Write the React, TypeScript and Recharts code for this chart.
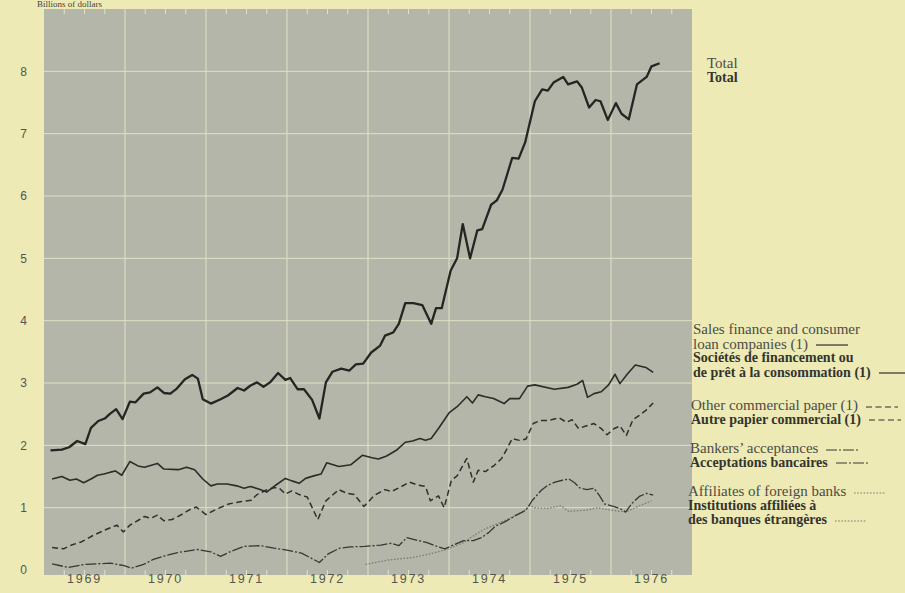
import React from 'react';
import { LineChart, Line, XAxis, YAxis, CartesianGrid, ReferenceLine } from 'recharts';

// values in billions of dollars, x = decimal year
const TOTAL = [
  [1969.08, 1.92], [1969.22, 1.93], [1969.31, 1.97], [1969.41, 2.07], [1969.51, 2.02], [1969.58, 2.28],
  [1969.67, 2.39], [1969.75, 2.43], [1969.81, 2.5], [1969.89, 2.58], [1969.97, 2.42], [1970.06, 2.7],
  [1970.13, 2.69], [1970.23, 2.83], [1970.31, 2.85], [1970.4, 2.93], [1970.48, 2.84], [1970.56, 2.83],
  [1970.64, 2.91], [1970.74, 3.06], [1970.83, 3.13], [1970.9, 3.07], [1970.96, 2.74], [1971.06, 2.67],
  [1971.18, 2.74], [1971.27, 2.8], [1971.39, 2.92], [1971.47, 2.88], [1971.55, 2.96], [1971.63, 3.01],
  [1971.71, 2.94], [1971.79, 3.01], [1971.89, 3.16], [1971.98, 3.05], [1972.04, 3.08], [1972.13, 2.9],
  [1972.21, 2.9], [1972.31, 2.73], [1972.4, 2.43], [1972.48, 3.01], [1972.56, 3.18], [1972.67, 3.23],
  [1972.77, 3.2], [1972.85, 3.3], [1972.94, 3.31], [1973.04, 3.49], [1973.15, 3.6], [1973.21, 3.76],
  [1973.31, 3.81], [1973.38, 3.95], [1973.46, 4.28], [1973.56, 4.28], [1973.67, 4.25], [1973.78, 3.95],
  [1973.84, 4.2], [1973.91, 4.2], [1974.02, 4.8], [1974.1, 5.0], [1974.17, 5.55], [1974.26, 5.0],
  [1974.35, 5.45], [1974.41, 5.47], [1974.52, 5.86], [1974.59, 5.93], [1974.66, 6.1], [1974.78, 6.61],
  [1974.86, 6.6], [1974.94, 6.86], [1975.06, 7.52], [1975.15, 7.71], [1975.22, 7.69], [1975.29, 7.82],
  [1975.41, 7.91], [1975.47, 7.79], [1975.58, 7.84], [1975.64, 7.74], [1975.73, 7.42], [1975.81, 7.54],
  [1975.87, 7.52], [1975.96, 7.22], [1976.06, 7.49], [1976.13, 7.32], [1976.22, 7.23], [1976.32, 7.79],
  [1976.44, 7.91], [1976.5, 8.08], [1976.6, 8.13],
];

const SALES_FINANCE = [
  [1969.1, 1.46], [1969.22, 1.5], [1969.32, 1.44], [1969.4, 1.46], [1969.49, 1.4], [1969.58, 1.46],
  [1969.66, 1.52], [1969.74, 1.54], [1969.82, 1.57], [1969.88, 1.59], [1969.96, 1.52], [1970.06, 1.74],
  [1970.16, 1.67], [1970.24, 1.65], [1970.4, 1.71], [1970.48, 1.62], [1970.66, 1.61], [1970.76, 1.65],
  [1970.86, 1.61], [1970.96, 1.46], [1971.06, 1.35], [1971.14, 1.38], [1971.26, 1.38], [1971.38, 1.35],
  [1971.47, 1.31], [1971.55, 1.34], [1971.65, 1.3], [1971.75, 1.25], [1971.86, 1.36], [1971.98, 1.47],
  [1972.06, 1.43], [1972.15, 1.39], [1972.23, 1.47], [1972.33, 1.51], [1972.42, 1.54], [1972.49, 1.72],
  [1972.64, 1.66], [1972.79, 1.69], [1972.93, 1.84], [1973.05, 1.8], [1973.13, 1.78], [1973.23, 1.83],
  [1973.36, 1.93], [1973.46, 2.05], [1973.55, 2.07], [1973.64, 2.11], [1973.71, 2.08], [1973.78, 2.11],
  [1973.87, 2.27], [1974.0, 2.52], [1974.1, 2.62], [1974.22, 2.78], [1974.29, 2.68], [1974.36, 2.81],
  [1974.45, 2.78], [1974.55, 2.75], [1974.68, 2.67], [1974.75, 2.75], [1974.87, 2.75], [1974.97, 2.95],
  [1975.06, 2.97], [1975.3, 2.9], [1975.47, 2.93], [1975.58, 2.98], [1975.65, 3.04], [1975.71, 2.77],
  [1975.79, 2.83], [1975.88, 2.86], [1975.97, 2.97], [1976.05, 3.14], [1976.11, 2.99], [1976.2, 3.14],
  [1976.3, 3.29], [1976.43, 3.25], [1976.52, 3.17],
];

const OTHER_PAPER = [
  [1969.1, 0.36], [1969.24, 0.34], [1969.34, 0.4], [1969.46, 0.45], [1969.6, 0.55], [1969.75, 0.64],
  [1969.9, 0.72], [1969.98, 0.61], [1970.06, 0.72], [1970.18, 0.81], [1970.24, 0.86], [1970.32, 0.83],
  [1970.4, 0.88], [1970.48, 0.79], [1970.58, 0.81], [1970.7, 0.89], [1970.8, 0.97], [1970.88, 1.01],
  [1971.0, 0.89], [1971.12, 0.97], [1971.28, 1.06], [1971.44, 1.1], [1971.56, 1.12], [1971.63, 1.21],
  [1971.74, 1.28], [1971.84, 1.32], [1971.9, 1.32], [1971.98, 1.22], [1972.06, 1.27], [1972.15, 1.21],
  [1972.25, 1.17], [1972.38, 0.81], [1972.48, 1.11], [1972.64, 1.29], [1972.74, 1.23], [1972.83, 1.21],
  [1972.95, 1.02], [1973.08, 1.2], [1973.21, 1.29], [1973.29, 1.26], [1973.4, 1.33], [1973.51, 1.41],
  [1973.62, 1.36], [1973.71, 1.34], [1973.77, 1.11], [1973.83, 1.16], [1973.87, 1.19], [1973.94, 1.0],
  [1974.03, 1.44], [1974.1, 1.51], [1974.22, 1.79], [1974.3, 1.41], [1974.36, 1.6], [1974.45, 1.58],
  [1974.56, 1.68], [1974.65, 1.79], [1974.71, 1.93], [1974.78, 2.11], [1974.87, 2.08], [1974.95, 2.1],
  [1975.04, 2.35], [1975.13, 2.4], [1975.23, 2.4], [1975.36, 2.44], [1975.45, 2.37], [1975.52, 2.41],
  [1975.6, 2.27], [1975.69, 2.31], [1975.79, 2.35], [1975.88, 2.27], [1975.95, 2.17], [1976.04, 2.27],
  [1976.11, 2.31], [1976.19, 2.16], [1976.27, 2.41], [1976.35, 2.48], [1976.43, 2.56], [1976.52, 2.68],
];

const BANKERS = [
  [1969.1, 0.1], [1969.3, 0.04], [1969.5, 0.09], [1969.66, 0.1], [1969.82, 0.11], [1969.99, 0.07],
  [1970.08, 0.03], [1970.23, 0.09], [1970.35, 0.17], [1970.5, 0.23], [1970.65, 0.28], [1970.89, 0.33],
  [1971.06, 0.29], [1971.18, 0.22], [1971.31, 0.3], [1971.47, 0.38], [1971.68, 0.39], [1971.84, 0.35],
  [1972.0, 0.32], [1972.18, 0.27], [1972.4, 0.12], [1972.51, 0.26], [1972.65, 0.35], [1972.78, 0.37],
  [1972.96, 0.38], [1973.16, 0.4], [1973.29, 0.43], [1973.38, 0.39], [1973.48, 0.52], [1973.63, 0.47],
  [1973.73, 0.44], [1973.85, 0.38], [1973.95, 0.34], [1974.05, 0.4], [1974.18, 0.47], [1974.3, 0.47],
  [1974.4, 0.52], [1974.49, 0.6], [1974.57, 0.7], [1974.7, 0.78], [1974.83, 0.88], [1974.95, 0.96],
  [1975.03, 1.12], [1975.14, 1.28], [1975.22, 1.36], [1975.31, 1.41], [1975.4, 1.44], [1975.48, 1.46],
  [1975.55, 1.4], [1975.61, 1.32], [1975.7, 1.29], [1975.79, 1.31], [1975.86, 1.19], [1975.92, 1.06],
  [1976.03, 1.02], [1976.12, 0.98], [1976.18, 0.93], [1976.26, 1.07], [1976.35, 1.18], [1976.44, 1.23],
  [1976.52, 1.2],
];

const AFFILIATES = [
  [1972.97, 0.09], [1973.25, 0.16], [1973.55, 0.2], [1973.77, 0.26], [1973.97, 0.33], [1974.18, 0.44],
  [1974.27, 0.52], [1974.43, 0.65], [1974.61, 0.75], [1974.78, 0.85], [1974.91, 0.93], [1975.0, 1.04],
  [1975.05, 1.0], [1975.22, 0.99], [1975.38, 1.03], [1975.48, 0.94], [1975.57, 0.95], [1975.7, 0.96],
  [1975.83, 1.0], [1976.0, 0.96], [1976.18, 0.93], [1976.35, 1.03], [1976.5, 1.11],
];

const YEARS = [1969, 1970, 1971, 1972, 1973, 1974, 1975, 1976];
const YEAR_LINES = [1970, 1971, 1972, 1973, 1974, 1975, 1976];
const VALUE_TICKS = [0, 1, 2, 3, 4, 5, 6, 7, 8];
const VALUE_LINES = [1, 2, 3, 4, 5, 6, 7, 8];

const W = 905;
const H = 593;
const Y_MIN = -0.08;
const Y_MAX = 9;

const PAGE = '#EDEAB5';
const PLOT = '#B3B6A9';
const GRID = '#E3E1C6';

type Key = 'total' | 'sales' | 'paper' | 'bankers' | 'affiliates';

const STYLE: Record<Key, { stroke: string; width: number; dash?: string }> = {
  total: { stroke: '#252523', width: 2.3 },
  sales: { stroke: '#2c2c29', width: 1.6 },
  paper: { stroke: '#30302c', width: 1.5, dash: '6 3.5' },
  bankers: { stroke: '#383834', width: 1.3, dash: '11 2 2 2' },
  affiliates: { stroke: '#7c7e72', width: 1.3, dash: '1.6 1.6' },
};

const SERIES: { key: Key; rows: number[][] }[] = [
  { key: 'affiliates', rows: AFFILIATES },
  { key: 'bankers', rows: BANKERS },
  { key: 'paper', rows: OTHER_PAPER },
  { key: 'sales', rows: SALES_FINANCE },
  { key: 'total', rows: TOTAL },
];

const LEGEND: { key: Key; left: number; top: number; lines: { text: string; bold: boolean; sample?: boolean }[] }[] = [
  { key: 'total', left: 707, top: 56, lines: [
    { text: 'Total', bold: false }, { text: 'Total', bold: true },
  ] },
  { key: 'sales', left: 693, top: 322, lines: [
    { text: 'Sales finance and consumer', bold: false },
    { text: 'loan companies (1)', bold: false, sample: true },
    { text: 'Sociétés de financement ou', bold: true },
    { text: 'de prêt à la consommation (1)', bold: true, sample: true },
  ] },
  { key: 'paper', left: 691, top: 398, lines: [
    { text: 'Other commercial paper (1)', bold: false, sample: true },
    { text: 'Autre papier commercial (1)', bold: true, sample: true },
  ] },
  { key: 'bankers', left: 690, top: 441, lines: [
    { text: 'Bankers\u2019 acceptances', bold: false, sample: true },
    { text: 'Acceptations bancaires', bold: true, sample: true },
  ] },
  { key: 'affiliates', left: 688, top: 484, lines: [
    { text: 'Affiliates of foreign banks', bold: false, sample: true },
    { text: 'Institutions affiliées à', bold: true },
    { text: 'des banques étrangères', bold: true, sample: true },
  ] },
];

const toPts = (rows: number[][]) => rows.map(([t, v]) => ({ t, v }));

const YearTick = (props: any) => {
  const { x, y, payload } = props;
  return (
    <text x={x} y={y} textAnchor="middle" fontSize={12.5} fill="#555550"
      letterSpacing={1.8} fontFamily="'Liberation Sans', sans-serif">
      {Math.floor(payload.value)}
    </text>
  );
};

const Sample = ({ k }: { k: Key }) => {
  const s = STYLE[k];
  return (
    <svg width={32} height={6} style={{ marginLeft: 8, verticalAlign: 'middle' }}>
      <line x1={0} x2={32} y1={3} y2={3} stroke={s.stroke} strokeWidth={1.2}
        strokeDasharray={s.dash} />
    </svg>
  );
};

export default function App() {
  const quarters = YEARS.flatMap((y) => [y + 0.25, y + 0.5, y + 0.75]);
  return (
    <div style={{
      position: 'absolute', left: 0, top: 0, width: W, height: H, background: PAGE,
      overflow: 'hidden', fontFamily: "'Liberation Serif', serif",
    }}>
      <div style={{ position: 'absolute', left: 37, top: 0, fontSize: 9, lineHeight: '9px', color: '#444' }}>
        Billions of dollars
      </div>
      <LineChart width={W} height={H} margin={{ top: 9, right: 213, bottom: 0, left: 0 }}>
        <CartesianGrid fill={PLOT} fillOpacity={1} horizontal={false} vertical={false} />
        <XAxis dataKey="t" type="number" domain={[1969, 1977]} allowDataOverflow
          ticks={YEARS.map((y) => y + 0.5)} height={18} tickSize={0} tickMargin={8}
          axisLine={false} tickLine={false} tick={<YearTick />} interval={0} />
        <YAxis type="number" domain={[Y_MIN, Y_MAX]} allowDataOverflow ticks={VALUE_TICKS}
          width={44} tickSize={0} tickMargin={17} axisLine={false} tickLine={false} interval={0}
          tick={{ fontSize: 12, fill: '#555550', fontFamily: "'Liberation Sans', sans-serif" }} />
        {YEAR_LINES.map((y) => (
          <ReferenceLine key={`gx${y}`} x={y} stroke={GRID} strokeWidth={1} />
        ))}
        {VALUE_LINES.map((v) => (
          <ReferenceLine key={`gy${v}`} y={v} stroke={GRID} strokeWidth={1} />
        ))}
        {quarters.map((q) => (
          <ReferenceLine key={`qt${q}`} segment={[{ x: q, y: Y_MAX }, { x: q, y: Y_MAX - 0.08 }]}
            stroke={GRID} strokeWidth={1} />
        ))}
        {quarters.map((q) => (
          <ReferenceLine key={`qb${q}`} segment={[{ x: q, y: Y_MIN }, { x: q, y: 0 }]}
            stroke={GRID} strokeWidth={1} />
        ))}
        {SERIES.map(({ key, rows }) => (
          <Line key={key} data={toPts(rows)} dataKey="v" type="linear"
            stroke={STYLE[key].stroke} strokeWidth={STYLE[key].width}
            strokeDasharray={STYLE[key].dash} strokeLinejoin="round"
            dot={false} activeDot={false} isAnimationActive={false} />
        ))}
      </LineChart>
      {LEGEND.map((b) => (
        <div key={b.key} style={{ position: 'absolute', left: b.left, top: b.top, lineHeight: '14.5px', whiteSpace: 'nowrap' }}>
          {b.lines.map((ln, i) => (
            <div key={i} style={{
              fontWeight: ln.bold ? 700 : 400, fontSize: ln.bold ? 14 : 15,
              color: ln.bold ? '#34342f' : '#4c4c46',
            }}>
              {ln.text}
              {ln.sample && <Sample k={b.key} />}
            </div>
          ))}
        </div>
      ))}
    </div>
  );
}
